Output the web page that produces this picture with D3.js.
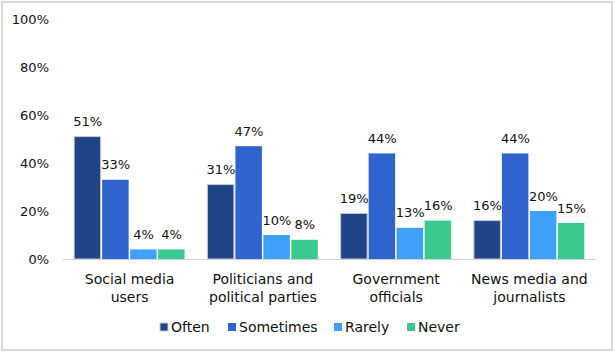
<!DOCTYPE html>
<html><head><meta charset="utf-8">
<script src="https://cdn.jsdelivr.net/npm/d3@7/dist/d3.min.js"></script>
<style>
html,body{margin:0;padding:0;background:#fff;}
svg text{font-family:"DejaVu Sans",sans-serif;fill:#111;}
</style></head>
<body>
<svg id="chart" width="615" height="354"></svg>
<script>
const categories = [["Social media","users"],["Politicians and","political parties"],["Government","officials"],["News media and","journalists"]];
const seriesNames = ["Often","Sometimes","Rarely","Never"];
const often = [51,31,19,16];
const sometimes = [33,47,44,44];
const rarely = [4,10,13,20];
const never = [4,8,16,15];
const yTicks = [0,20,40,60,80,100];
const colors = ["#1F4488","#2E64CC","#3FA0F9","#3BC98D"];

(function(){
const seriesValues = [often, sometimes, rarely, never];
const svg = d3.select("#chart");

// border
svg.append("rect").attr("x",2).attr("y",2).attr("width",610).attr("height",348)
  .attr("fill","#fff").attr("stroke","#d9d9d9").attr("stroke-width",2);

const pLeft = 63, pRight = 596, pTop = 19, pBottom = 259;
const catIdx = categories.map((c,i)=>i);
const x0 = d3.scaleBand().domain(catIdx).range([pLeft,pRight]).paddingInner(0.16).paddingOuter(0.08);
const x1 = d3.scaleBand().domain(seriesNames).range([0,x0.bandwidth()]).padding(0);
const y = d3.scaleLinear().domain([0,100]).range([pBottom,pTop]);

// y tick labels
svg.append("g").selectAll("text").data(yTicks).join("text")
  .attr("x",49).attr("y",d=>y(d)).attr("dy","0.35em").attr("text-anchor","end")
  .style("font-size","13px").text(d=>d+"%");

// bars
const groups = svg.append("g").selectAll("g").data(catIdx).join("g")
  .attr("transform",i=>`translate(${x0(i)},0)`);
groups.selectAll("rect").data(i=>seriesNames.map((s,k)=>({s,k,v:seriesValues[k][i]}))).join("rect")
  .attr("x",d=>x1(d.s)+0.5).attr("y",d=>y(d.v))
  .attr("width",x1.bandwidth()-1.5).attr("height",d=>pBottom-y(d.v))
  .attr("fill",d=>colors[d.k])
  .attr("stroke",d=>d.k===0?"#c8c8c8":"none").attr("stroke-width",1);
groups.selectAll("text.lbl").data(i=>seriesNames.map((s,k)=>({s,k,v:seriesValues[k][i]}))).join("text")
  .attr("class","lbl")
  .attr("x",d=>x1(d.s)+x1.bandwidth()/2).attr("y",d=>y(d.v)-15).attr("dy","0.35em")
  .attr("text-anchor","middle").style("font-size","13px").text(d=>d.v+"%");

// axis line
svg.append("line").attr("x1",pLeft).attr("x2",pRight).attr("y1",pBottom+0.5).attr("y2",pBottom+0.5)
  .attr("stroke","#d0d0d0").attr("stroke-width",1);

// category labels
const cl = svg.append("g").selectAll("text").data(catIdx).join("text")
  .attr("x",i=>x0(i)+x0.bandwidth()/2).attr("text-anchor","middle").style("font-size","14px");
cl.selectAll("tspan").data(i=>categories[i].map((t,j)=>({t,j}))).join("tspan")
  .attr("x",function(){return d3.select(this.parentNode).attr("x");})
  .attr("y",d=>279+d.j*18).attr("dy","0.35em").text(d=>d.t);

// legend
const legX = [160,228,334,407];
const leg = svg.append("g").selectAll("g").data(seriesNames).join("g")
  .attr("transform",(d,i)=>`translate(${legX[i]},327)`);
leg.append("rect").attr("x",0).attr("y",-4).attr("width",8).attr("height",8)
  .attr("fill",(d,i)=>colors[i]).attr("stroke",(d,i)=>i===0?"#c8c8c8":"none");
leg.append("text").attr("x",11).attr("y",0).attr("dy","0.35em").style("font-size","14px").text(d=>d);
})();
</script>
</body></html>
